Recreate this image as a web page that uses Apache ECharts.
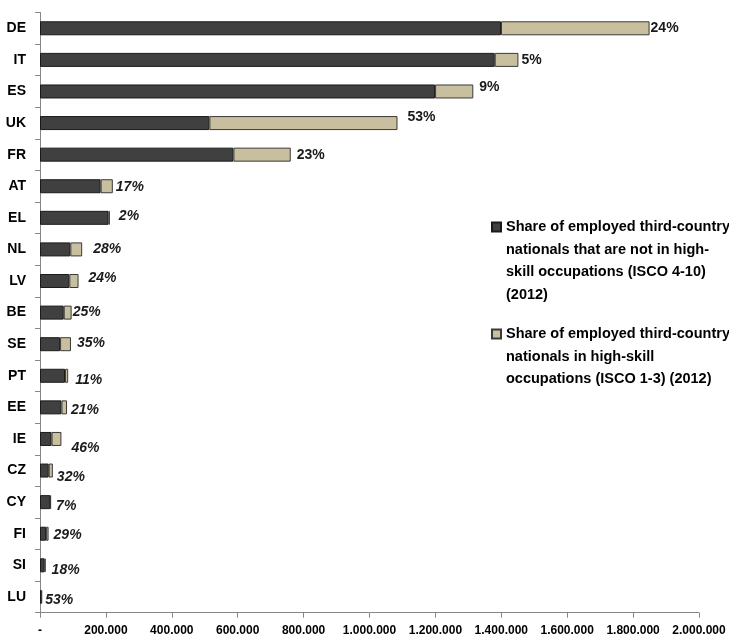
<!DOCTYPE html>
<html>
<head>
<meta charset="utf-8">
<script src="https://cdn.jsdelivr.net/npm/echarts@6/dist/echarts.min.js"></script>
<style>
  html, body { margin: 0; padding: 0; background: #ffffff; }
  #chart { width: 729px; height: 639px; }
</style>
</head>
<body>
<div id="chart"></div>
<script>
// Employed third-country nationals by skill level, EU member states (2012)
const countries = ['DE', 'IT', 'ES', 'UK', 'FR', 'AT', 'EL', 'NL', 'LV', 'BE', 'SE', 'PT', 'EE', 'IE', 'CZ', 'CY', 'FI', 'SI', 'LU'];

// not in high-skill occupations (ISCO 4-10)
const notHighSkill = [1399000, 1380000, 1199000, 514000, 587000, 184000, 208000, 92000, 89000, 72000, 61000, 76000, 65000, 35000, 26500, 31000, 18500, 14000, 3200];

// in high-skill occupations (ISCO 1-3)
const highSkill = [451000, 72000, 116000, 571000, 174000, 37000, 4000, 36000, 28000, 24000, 33000, 9500, 17000, 30000, 12500, 2300, 7500, 3000, 3500];

// high-skill share printed at the end of each bar
const shareLabels = ['24%', '5%', '9%', '53%', '23%', '17%', '2%', '28%', '24%', '25%', '35%', '11%', '21%', '46%', '32%', '7%', '29%', '18%', '53%'];

const xTickLabels = ['-', '200.000', '400.000', '600.000', '800.000', '1.000.000', '1.200.000', '1.400.000', '1.600.000', '1.800.000', '2.000.000'];

const seriesNames = [
  'Share of employed third-country nationals that are not in high-skill occupations (ISCO 4-10) (2012)',
  'Share of employed third-country nationals in high-skill occupations (ISCO 1-3) (2012)'
];
const legendLines = [
  ['Share of employed third-country', 'nationals that are not in high-', 'skill occupations (ISCO 4-10)', '(2012)'],
  ['Share of employed third-country', 'nationals in high-skill', 'occupations (ISCO 1-3) (2012)']
];

// small hand nudges [dx, dy] for the share labels
const labelNudge = [[1, 0], [3, 0], [6, -4], [10, -6], [6, 0], [3, 1], [9, -2], [11, 0], [10, -3], [1, 0], [6, -1], [7, 4], [4, 3], [10, 9], [4, 7], [5, 4], [5, 1], [6, 5], [3, 3]];

const FONT = "'Liberation Sans', Arial, sans-serif";
const AXIS_GREY = '#868686';
const LH = 22.5;

const chart = echarts.init(document.getElementById('chart'), null, { renderer: 'canvas' });

// One legend block per series; leading blank lines keep the swatch level with the first text line.
function legendFor(idx, firstLineY) {
  const n = legendLines[idx].length;
  return {
    data: [seriesNames[idx]],
    orient: 'vertical',
    left: 491,
    top: firstLineY - (n - 0.5) * LH,
    padding: 0,
    itemWidth: 9,
    itemHeight: 9,
    itemGap: 6,
    icon: 'rect',
    selectedMode: false,
    formatter: name => {
      const lines = legendLines[seriesNames.indexOf(name)];
      return '\n'.repeat(lines.length - 1) + lines.join('\n');
    },
    textStyle: {
      fontFamily: FONT,
      fontWeight: 'bold',
      fontSize: 14.5,
      lineHeight: LH,
      color: '#000000'
    }
  };
}

chart.setOption({
  animation: false,
  backgroundColor: '#ffffff',
  grid: { left: 40, right: 30, top: 12.5, bottom: 26.3, containLabel: false, outerBoundsMode: 'none' },
  legend: [legendFor(0, 227), legendFor(1, 334)],
  xAxis: {
    type: 'value',
    min: 0,
    max: 2000000,
    interval: 200000,
    splitLine: { show: false },
    axisLine: { show: true, lineStyle: { color: AXIS_GREY, width: 1 } },
    axisTick: { show: true, length: 5, lineStyle: { color: AXIS_GREY } },
    axisLabel: {
      margin: 12,
      fontFamily: FONT,
      fontWeight: 'bold',
      fontSize: 12,
      color: '#000000',
      formatter: v => xTickLabels[Math.round(v / 200000)]
    }
  },
  yAxis: {
    type: 'category',
    data: countries,
    inverse: true,
    axisLine: { show: true, lineStyle: { color: AXIS_GREY, width: 1 } },
    axisTick: { show: true, length: 5, lineStyle: { color: AXIS_GREY } },
    axisLabel: {
      margin: 14,
      fontFamily: FONT,
      fontWeight: 'bold',
      fontSize: 14,
      color: '#000000'
    }
  },
  series: [
    {
      name: seriesNames[0],
      type: 'bar',
      stack: 'total',
      barWidth: 14,
      data: notHighSkill,
      itemStyle: { color: '#404040', borderColor: '#1a1a1a', borderWidth: 1 }
    },
    {
      name: seriesNames[1],
      type: 'bar',
      stack: 'total',
      barWidth: 14,
      data: highSkill.map((v, i) => ({
        value: v,
        label: { offset: labelNudge[i], fontStyle: i < 5 ? 'normal' : 'italic' }
      })),
      itemStyle: { color: '#c7bf9d', borderColor: '#3a3a3a', borderWidth: 1 },
      label: {
        show: true,
        position: 'right',
        distance: 0,
        fontFamily: FONT,
        fontWeight: 'bold',
        fontSize: 14,
        color: '#1a1a1a',
        formatter: p => shareLabels[p.dataIndex]
      }
    }
  ]
});
</script>
</body>
</html>
